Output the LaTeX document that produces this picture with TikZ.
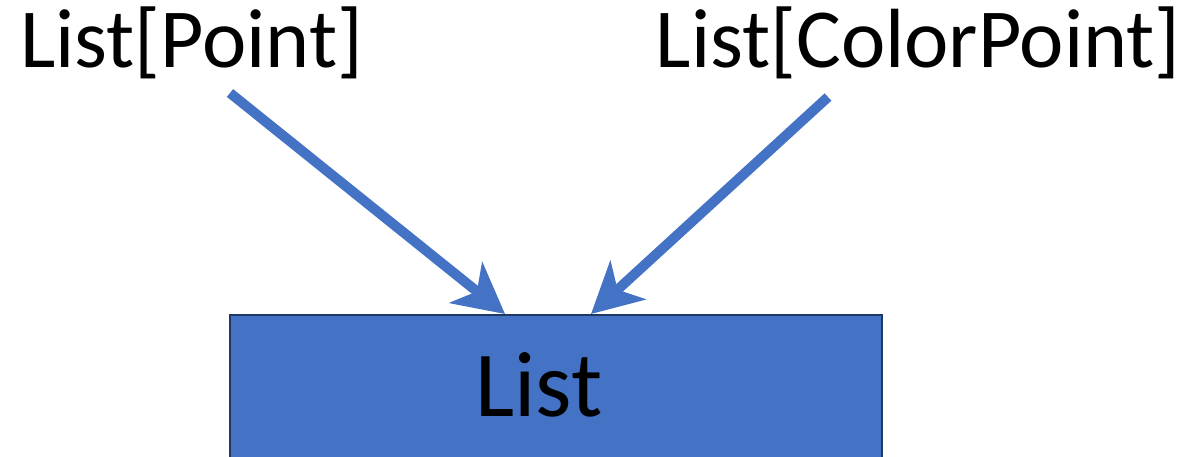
\documentclass[tikz,border=0pt]{standalone}
\usepackage{fontspec}
\setmainfont{Carlito}
\usepackage{xcolor}
\usetikzlibrary{arrows.meta}
\definecolor{accent}{HTML}{4472C4}
\definecolor{accentdark}{HTML}{1F3864}
\begin{document}
\begin{tikzpicture}[x=1pt,y=-1pt]
    \tikzstyle{T}=[inner sep=0pt,font=\fontsize{84}{94}\selectfont]
    \tikzstyle{B}=[rectangle,fill=accent,draw=accentdark,line width=2pt,minimum width=652pt,minimum height=170pt,anchor=north west]
    \tikzstyle{A}=[draw=accent,line width=10pt,-{Stealth[length=50pt,width=52pt,inset=14pt]}]

    \useasboundingbox (0,0) rectangle (1197,456);
    \clip (0,0) rectangle (1197,456);

    % Labels
    \node [T,anchor=base west] (point) at (20,67) {List[Point]};
    \node [T,anchor=base east] (colorpoint) at (1181,67) {List[ColorPoint]};

    % Box
    \node [B] (list) at (229,314) {};
    \node [T,font=\fontsize{93}{103}\selectfont,anchor=base] (listtext) at (539,416) {List};

    % Arrows
    \coordinate (p1) at (230,93);
    \coordinate (p2) at (505,314);
    \coordinate (c1) at (828,97);
    \coordinate (c2) at (591,314);
    \draw [A] (p1) -- (p2);
    \draw [A] (c1) -- (c2);
\end{tikzpicture}
\end{document}
